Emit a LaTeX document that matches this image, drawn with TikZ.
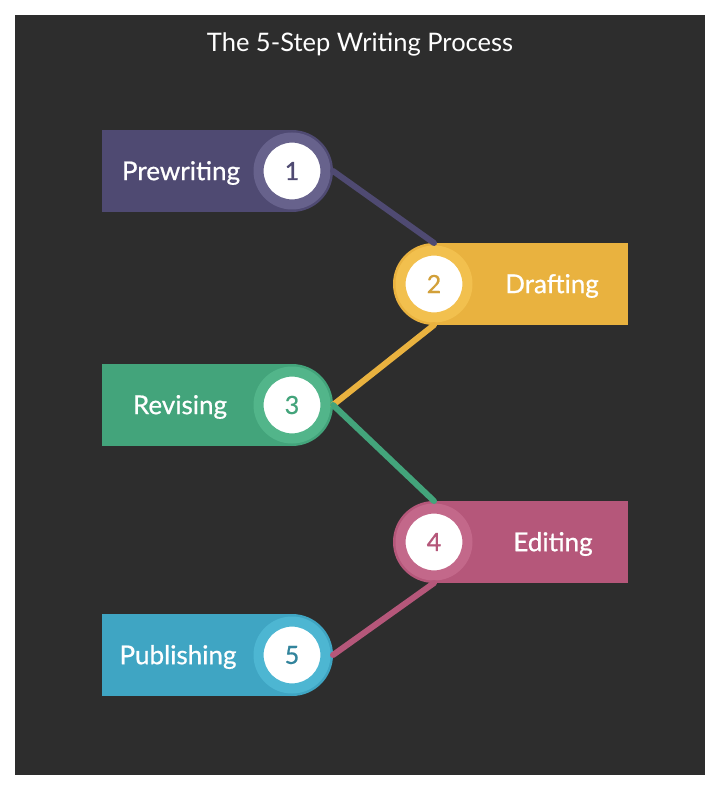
\documentclass[tikz,border=0pt]{standalone}
\usepackage{fontspec}
\setmainfont{Lato}
\newfontfamily\semib{Lato}[FakeBold=0.7]
\definecolor{bgc}{HTML}{2D2D2D}
\definecolor{pA}{HTML}{4F4A72}\definecolor{pB}{HTML}{67628C}
\definecolor{yA}{HTML}{E9B23F}\definecolor{yB}{HTML}{F2C04E}
\definecolor{gA}{HTML}{43A47B}\definecolor{gB}{HTML}{52B58A}
\definecolor{mA}{HTML}{B5577A}\definecolor{mB}{HTML}{C3688A}
\definecolor{cA}{HTML}{3FA5C3}\definecolor{cB}{HTML}{4DB6D2}
\tikzset{
  bar/.style={rectangle, inner sep=0, outer sep=0, minimum width=191, minimum height=82},
  disc/.style={circle, inner sep=0, outer sep=0, minimum size=82},
  ring/.style={circle, inner sep=0, outer sep=0, minimum size=77},
  num/.style={circle, inner sep=0, outer sep=0, minimum size=58, fill=white, line width=1.2, font=\semib\fontsize{25}{28}\selectfont},
  lbl/.style={text=white, font=\semib\fontsize{26}{30}\selectfont},
  conn/.style={line width=6, line cap=round},
  ttl/.style={text=white, font=\fontsize{25.5}{30}\selectfont}
}
\begin{document}
\begin{tikzpicture}[x=1pt,y=-1pt]
\useasboundingbox (0,0) rectangle (720,791);
\fill[white] (0,0) rectangle (720,791);
\fill[bgc] (15,15) rectangle (705,775);
\node[ttl] (title) at (360,44) {The 5-Step Writing Process};
% step 1
\node[bar, fill=pA] (r1) at (197.5,171) {};
\node[disc, fill=pA] (c1) at (292,171) {};
\node[ring, fill=pB] (g1) at (c1) {};
\node[num, draw=pB, text=pA] (n1) at (c1) {1};
\node[lbl] (t1) at (181,173) {Prewriting};
% step 2
\node[bar, fill=yA, minimum width=194] (r2) at (531,284) {};
\node[disc, fill=yA] (c2) at (434,284) {};
\node[ring, fill=yB] (g2) at (c2) {};
\node[num, draw=yB, text=yA!90!black] (n2) at (c2) {2};
\node[lbl] (t2) at (552,286) {Drafting};
% step 3
\node[bar, fill=gA] (r3) at (197.5,405) {};
\node[disc, fill=gA] (c3) at (292,405) {};
\node[ring, fill=gB] (g3) at (c3) {};
\node[num, draw=gB, text=gA] (n3) at (c3) {3};
\node[lbl] (t3) at (180,407) {Revising};
% step 4
\node[bar, fill=mA, minimum width=194] (r4) at (531,542) {};
\node[disc, fill=mA] (c4) at (434,542) {};
\node[ring, fill=mB] (g4) at (c4) {};
\node[num, draw=mB, text=mA] (n4) at (c4) {4};
\node[lbl] (t4) at (553,544) {Editing};
% step 5
\node[bar, fill=cA] (r5) at (197.5,655) {};
\node[disc, fill=cA] (c5) at (292,655) {};
\node[ring, fill=cB] (g5) at (c5) {};
\node[num, draw=cB, text=cA!80!black] (n5) at (c5) {5};
\node[lbl] (t5) at (178,657) {Publishing};
% connectors
\draw[conn, draw=pA] (c1.east) -- (c2.north);
\draw[conn, draw=yA] (c2.south) -- (c3.east);
\draw[conn, draw=gA] (c3.east) -- (c4.north);
\draw[conn, draw=mA] (c4.south) -- (c5.east);
\end{tikzpicture}
\end{document}
